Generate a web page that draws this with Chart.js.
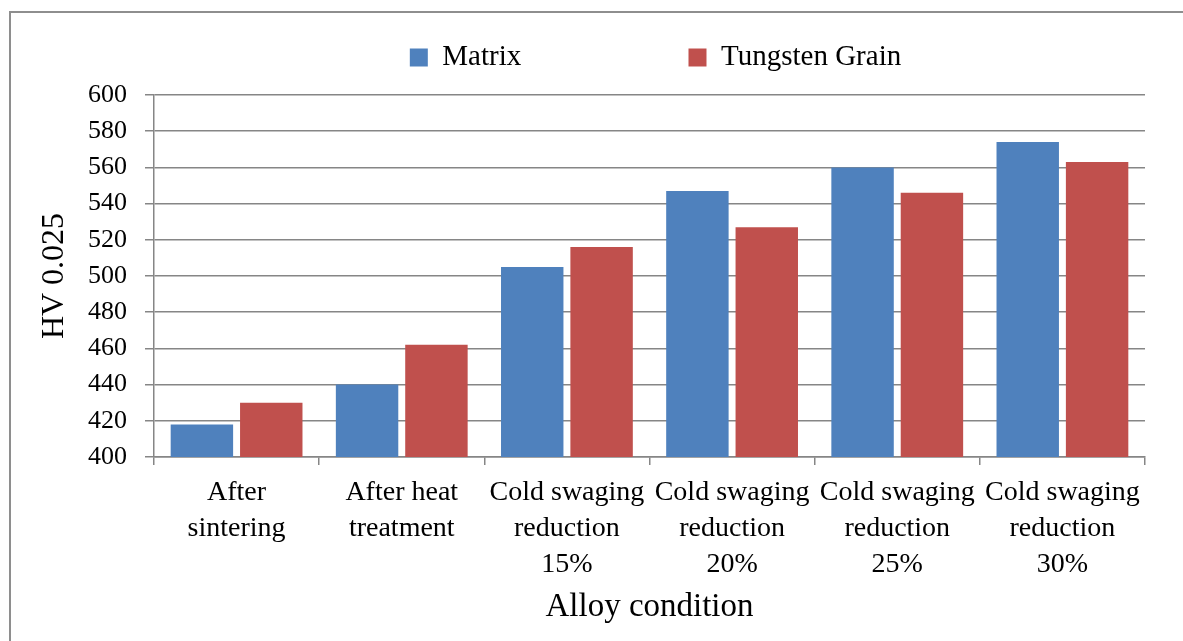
<!DOCTYPE html>
<html>
<head>
<meta charset="utf-8">
<script src="https://cdn.jsdelivr.net/npm/chart.js@4"></script>
<style>
  html, body { margin: 0; padding: 0; background: #fff; overflow: hidden; }
  #wrap { position: relative; width: 1183px; height: 641px; }
  #frame { position: absolute; left: 9px; top: 11px; width: 1300px; height: 800px; border: 2px solid #8e8e8e; box-sizing: border-box; }
  canvas { position: absolute; left: 0; top: 0; }
</style>
</head>
<body>
<div id="wrap">
  <div id="frame"></div>
  <canvas id="c" width="1183" height="641"></canvas>
</div>
<script>
const categories = [
  ['After', 'sintering'],
  ['After heat', 'treatment'],
  ['Cold swaging', 'reduction', '15%'],
  ['Cold swaging', 'reduction', '20%'],
  ['Cold swaging', 'reduction', '25%'],
  ['Cold swaging', 'reduction', '30%']
];
const seriesNames = ['Matrix', 'Tungsten Grain'];
const matrixValues = [418, 440, 505, 547, 560, 574];
const tungstenValues = [430, 462, 516, 527, 546, 563];
const yMin = 400, yMax = 600, yStep = 20;
const yTitle = 'HV 0.025';
const xTitle = 'Alloy condition';

const FONT = 'Liberation Serif';
const GRID = '#868686';
Chart.defaults.font.family = FONT;
Chart.defaults.color = '#000';

// extra space below the legend and a small horizontal nudge (as in the reference)
const legendGap = {
  id: 'legendGap',
  beforeLayout(chart) {
    const lg = chart.legend;
    if (lg && !lg._gapPatched) {
      const f = lg.fit;
      lg.fit = function () { f.call(this); this.height += 13; };
      lg._gapPatched = true;
    }
  },
  afterLayout(chart) {
    const lg = chart.legend;
    if (lg) { lg.left += 6; lg.right += 6; }
  }
};

new Chart(document.getElementById('c'), {
  type: 'bar',
  data: {
    labels: categories,
    datasets: [
      { label: seriesNames[0], data: matrixValues, backgroundColor: '#4F81BD', borderWidth: 0 },
      { label: seriesNames[1], data: tungstenValues, backgroundColor: '#C0504D', borderWidth: 0 }
    ]
  },
  plugins: [legendGap],
  options: {
    responsive: false,
    devicePixelRatio: 1,
    animation: false,
    categoryPercentage: 0.84,
    barPercentage: 0.9,
    layout: { padding: { top: 28, left: 0, right: 38, bottom: 0 } },
    plugins: {
      tooltip: { enabled: false },
      legend: {
        position: 'top',
        fullSize: false,
        labels: {
          font: { size: 29 },
          boxWidth: 18,
          boxHeight: 18,
          padding: 15,
          color: '#000',
          generateLabels: (chart) => {
            const items = Chart.defaults.plugins.legend.labels.generateLabels(chart);
            items[0].text = items[0].text + '\u00a0'.repeat(21);
            return items;
          }
        }
      }
    },
    scales: {
      x: {
        grid: { display: true, drawOnChartArea: false, drawTicks: true, tickLength: 8, offset: true, color: GRID, lineWidth: 1.5 },
        border: { display: true, color: GRID, width: 1.5 },
        ticks: { font: { size: 28, lineHeight: 1.286 }, padding: 10, maxRotation: 0, autoSkip: false, color: '#000' },
        title: { display: true, text: xTitle, font: { size: 33 }, padding: { top: 0, bottom: 14 }, color: '#000' },
        afterFit: (s) => { s.height = 184; }
      },
      y: {
        min: yMin, max: yMax,
        grid: { color: GRID, lineWidth: 1.5, tickLength: 9, drawTicks: true },
        border: { display: true, color: GRID, width: 1.5 },
        ticks: { stepSize: yStep, font: { size: 26 }, padding: 18, color: '#000' },
        title: { display: true, text: yTitle, font: { size: 32 }, padding: { top: 35, bottom: 0 }, color: '#000' },
        afterFit: (s) => { s.width = 154; }
      }
    }
  }
});
</script>
</body>
</html>
